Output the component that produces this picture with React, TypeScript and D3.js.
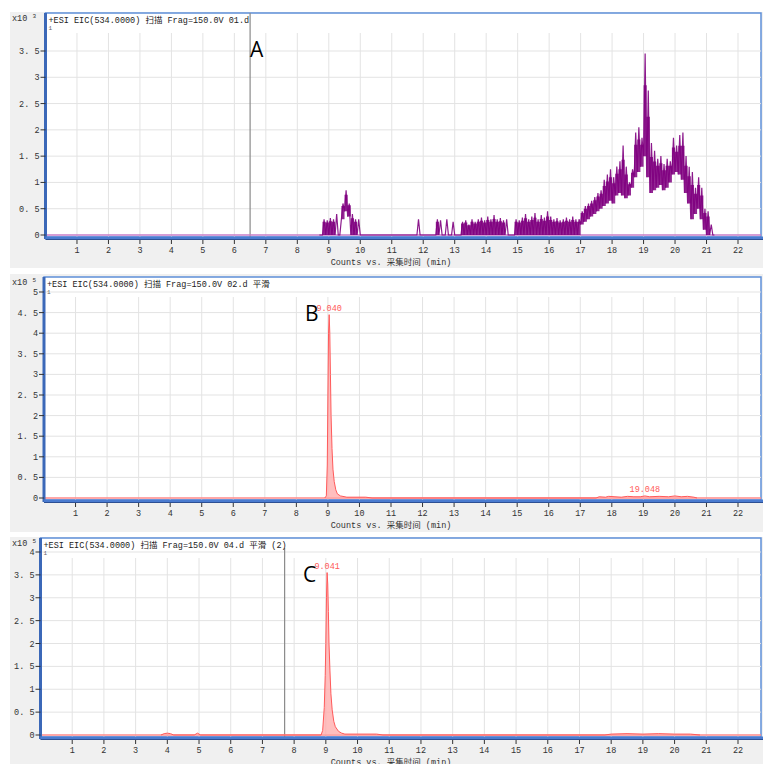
import React, { useRef, useEffect } from "react";
import * as d3 from "d3";

// x axis ticks (min)
const minuteTicks = [1, 2, 3, 4, 5, 6, 7, 8, 9, 10, 11, 12, 13, 14, 15, 16, 17, 18, 19, 20, 21, 22];

// y ticks per panel
const ticksA = [0, 0.5, 1, 1.5, 2, 2.5, 3, 3.5];
const ticksB = [0, 0.5, 1, 1.5, 2, 2.5, 3, 3.5, 4, 4.5, 5];
const ticksC = [0, 0.5, 1, 1.5, 2, 2.5, 3, 3.5, 4];

const titleA = "+ESI EIC(534.0000) 扫描 Frag=150.0V 01.d";
const titleB = "+ESI EIC(534.0000) 扫描 Frag=150.0V 02.d  平滑";
const titleC = "+ESI EIC(534.0000) 扫描 Frag=150.0V 04.d  平滑 (2)";
const xTitle = "Counts vs.  采集时间 (min)";

// panel A: noisy trace, 0.1 min bins starting at 8.7 (x10^3)
const aStart = 8.7;
const aStep = 0.1;
const aHigh = [
  0, 0.3, 0.28,
  0.32, 0.3, 0.4, 0, 0.6, 0.85, 0.6, 0.4, 0.3, 0.3,
  0, 0, 0, 0, 0, 0, 0, 0, 0, 0,
  0, 0, 0, 0, 0, 0, 0, 0, 0.3, 0,
  0, 0, 0, 0, 0.3, 0.28, 0, 0.3, 0, 0.25,
  0, 0, 0.25, 0.28, 0.2, 0.3, 0.25, 0.3, 0.33, 0.28,
  0.35, 0.3, 0.38, 0.3, 0.32, 0.28, 0.3, 0, 0, 0.3,
  0.28, 0.33, 0.4, 0.3, 0.35, 0.42, 0.3, 0.38, 0.33, 0.45,
  0.35, 0.3, 0.32, 0.28, 0.3, 0.33, 0.3, 0.35, 0.3, 0.3,
  0.45, 0.55, 0.6, 0.65, 0.72, 0.8, 0.85, 1.05, 1.15, 1.25,
  1.1, 1.3, 1.4, 1.7, 1.3, 1.0, 1.25, 1.95, 2.05, 1.85,
  3.45, 2.75, 1.75, 1.6, 1.45, 1.5, 1.35, 1.45, 1.4, 1.85,
  1.7, 1.9, 1.95, 1.5, 1.3, 1.2, 0.9, 1.1, 0.9, 0.5,
  0.45, 0.2, 0,
];
const aLow = [
  0, 0, 0,
  0, 0, 0, 0, 0.3, 0.45, 0.35, 0, 0, 0,
  0, 0, 0, 0, 0, 0, 0, 0, 0, 0,
  0, 0, 0, 0, 0, 0, 0, 0, 0, 0,
  0, 0, 0, 0, 0, 0, 0, 0, 0, 0,
  0, 0, 0, 0, 0, 0, 0, 0, 0, 0,
  0, 0, 0, 0, 0, 0, 0, 0, 0, 0,
  0, 0, 0, 0, 0, 0, 0, 0, 0, 0,
  0, 0, 0, 0, 0, 0, 0, 0, 0, 0,
  0.2, 0.25, 0.3, 0.35, 0.4, 0.45, 0.5, 0.55, 0.6, 0.65,
  0.6, 0.75, 0.8, 0.75, 0.7, 0.75, 0.9, 1.1, 1.2, 1.3,
  1.5, 1.1, 0.8, 0.85, 0.9, 0.95, 0.85, 0.9, 1.0, 1.15,
  1.2, 1.15, 1.05, 0.8, 0.6, 0.3, 0.4, 0.5, 0.3, 0.1,
  0, 0, 0,
];

// panel B (x10^5)
const bTime = [8.9, 8.95, 8.98, 9.0, 9.02, 9.04, 9.06, 9.08, 9.1, 9.13, 9.16, 9.2, 9.25, 9.3, 9.4, 9.6, 10.2, 10.4,
  17.5, 17.6, 17.8, 17.9, 18.1, 18.3, 18.5, 18.7, 18.9, 19.05, 19.2, 19.5, 19.8, 20.0, 20.2, 20.4, 20.6, 20.7];
const bValue = [0, 0.05, 0.8, 2.5, 4.0, 4.45, 4.0, 3.0, 2.0, 1.2, 0.7, 0.4, 0.2, 0.1, 0.05, 0.02, 0.02, 0,
  0, 0.03, 0.02, 0.04, 0.03, 0.02, 0.04, 0.03, 0.03, 0.05, 0.03, 0.04, 0.03, 0.05, 0.03, 0.04, 0.02, 0];

// panel C (x10^5)
const cTime = [3.8, 3.9, 4.0, 4.1, 4.2, 4.85, 4.95, 5.05, 8.85, 8.9, 8.95, 8.98, 9.0, 9.02, 9.04, 9.06, 9.08, 9.1, 9.13, 9.16,
  9.2, 9.25, 9.3, 9.4, 9.5, 9.6, 10.6, 10.8, 17.8, 18.0, 18.5, 19.0, 19.5, 20.0, 20.5, 20.8];
const cValue = [0, 0.03, 0.04, 0.03, 0, 0, 0.04, 0, 0, 0.1, 0.6, 1.3, 2.0, 3.0, 3.55, 3.3, 2.7, 2.0, 1.4, 0.9,
  0.55, 0.3, 0.18, 0.08, 0.04, 0.02, 0.02, 0, 0, 0.02, 0.03, 0.02, 0.03, 0.02, 0.02, 0];

const peakLabelsB = [{ t: 9.04, v: 4.45, text: "9.040" }, { t: 19.048, v: 0.05, text: "19.048" }];
const peakLabelsC = [{ t: 9.041, v: 3.55, text: "9.041" }];

const monoFont = "'Liberation Mono', 'Noto Sans CJK SC', monospace";

const panels = [
  { key: "A", bgTop: 12, bgBottom: 268, frameTop: 13, axisY: 237, left: 45.5, y0: 235, yTop: 51, ticks: ticksA, exp: "3",
    title: titleA, marker: 6.5, markerTop: 13, letterX: 250, letterY: 57 },
  { key: "B", bgTop: 274, bgBottom: 532, frameTop: 277, axisY: 500, left: 44, y0: 498, yTop: 292, ticks: ticksB, exp: "5",
    title: titleB, marker: null, markerTop: 0, letterX: 305, letterY: 321 },
  { key: "C", bgTop: 537, bgBottom: 764, frameTop: 538, axisY: 737, left: 40.5, y0: 735, yTop: 552, ticks: ticksC, exp: "5",
    title: titleC, marker: 7.7, markerTop: 548, letterX: 303, letterY: 582 },
];

const tickText = (v: number) => String(v).replace(".", ". ");

const App = () => {
  const ref = useRef<SVGSVGElement>(null);

  useEffect(() => {
    const svg = d3.select(ref.current);
    svg.selectAll("*").remove();
    const right = 761;

    panels.forEach((p) => {
      const g = svg.append("g");
      const x = d3.scaleLinear([0, 22], [p.left, 738]);
      const y = d3.scaleLinear([0, p.ticks[p.ticks.length - 1]], [p.y0, p.yTop]);

      g.append("rect").attr("x", 10).attr("y", p.bgTop).attr("width", 753).attr("height", p.bgBottom - p.bgTop)
        .attr("fill", "#f0f0f0");
      g.append("rect").attr("x", p.left).attr("y", p.frameTop).attr("width", right - p.left).attr("height", p.axisY - p.frameTop)
        .attr("fill", "#ffffff").attr("stroke", "#5e8fd8").attr("stroke-width", 1.5);

      // grid
      g.selectAll(".vg").data(minuteTicks).enter().append("line")
        .attr("x1", d => x(d)).attr("x2", d => x(d))
        .attr("y1", p.frameTop + 20).attr("y2", p.axisY)
        .attr("stroke", "#e3e3e3").attr("stroke-width", 1);
      g.selectAll(".hg").data(p.ticks.filter(t => t > 0)).enter().append("line")
        .attr("x1", p.left).attr("x2", right)
        .attr("y1", d => y(d)).attr("y2", d => y(d))
        .attr("stroke", "#e3e3e3").attr("stroke-width", 1);

      // vertical marker
      if (p.marker !== null) {
        g.append("line").attr("x1", x(p.marker)).attr("x2", x(p.marker))
          .attr("y1", p.markerTop).attr("y2", p.axisY)
          .attr("stroke", "#8a8a8a").attr("stroke-width", 1.2);
      }

      // header
      g.append("text").attr("x", p.left + 3).attr("y", p.frameTop + 10).attr("font-family", monoFont)
        .attr("font-size", 8.5).attr("fill", "#222").text(p.title);
      g.append("text").attr("x", p.left + 3).attr("y", p.frameTop + 17).attr("font-family", monoFont)
        .attr("font-size", 6).attr("fill", "#666").text("1");
      const xl = g.append("text").attr("x", 12).attr("y", p.frameTop + 8).attr("font-family", monoFont)
        .attr("font-size", 8.5).attr("fill", "#333");
      xl.append("tspan").text("x10 ");
      xl.append("tspan").attr("font-size", 6).attr("dy", -3).text(p.exp);

      // data
      if (p.key === "A") {
        g.append("line").attr("x1", p.left).attr("x2", right).attr("y1", y(0)).attr("y2", y(0))
          .attr("stroke", "#c77dc7").attr("stroke-width", 1.5);
        const I = d3.range(aHigh.length);
        // filled body of the noisy trace
        const band = d3.area<number>()
          .defined(i => aHigh[i] > 0)
          .curve(d3.curveStepAfter)
          .x(i => x(aStart + i * aStep))
          .y0(i => y(aLow[i]))
          .y1(i => y(Math.min(aHigh[i], (aLow[i] + aHigh[i] * 2) / 3 + 0.05)));
        g.append("path").attr("d", band(I)).attr("fill", "#800080").attr("fill-opacity", 0.85);
        // spikes
        const pts: [number, number][] = [];
        aHigh.forEach((h, i) => {
          const t = aStart + i * aStep;
          pts.push([t, aLow[i]]);
          pts.push([t + aStep / 2, h]);
        });
        const line = d3.line<[number, number]>().x(d => x(d[0])).y(d => y(d[1]));
        g.append("path").attr("d", line(pts)).attr("fill", "none")
          .attr("stroke", "#800080").attr("stroke-width", 1.2).attr("stroke-opacity", 0.9);
      } else {
        const T = p.key === "B" ? bTime : cTime;
        const V = p.key === "B" ? bValue : cValue;
        const I = d3.range(T.length);
        g.append("line").attr("x1", p.left).attr("x2", right).attr("y1", y(0)).attr("y2", y(0))
          .attr("stroke", "#ff8a8a").attr("stroke-width", 1.5);
        const area = d3.area<number>().x(i => x(T[i])).y0(y(0)).y1(i => y(V[i]));
        g.append("path").attr("d", area(I)).attr("fill", "#ffa8a8").attr("fill-opacity", 0.75);
        const line = d3.line<number>().x(i => x(T[i])).y(i => y(V[i]));
        g.append("path").attr("d", line(I)).attr("fill", "none").attr("stroke", "#ff5a5a").attr("stroke-width", 1);
        const labels = p.key === "B" ? peakLabelsB : peakLabelsC;
        g.selectAll(".pl").data(labels).enter().append("text")
          .attr("x", d => x(d.t)).attr("y", d => y(d.v) - 4)
          .attr("text-anchor", "middle").attr("font-family", monoFont)
          .attr("font-size", 8.5).attr("fill", "#ff5a5a").text(d => d.text);
      }

      // axes
      g.append("line").attr("x1", p.left).attr("x2", p.left).attr("y1", p.frameTop).attr("y2", p.axisY + 2)
        .attr("stroke", "#3b68b8").attr("stroke-width", 3);
      g.append("line").attr("x1", p.left).attr("x2", 763).attr("y1", p.axisY + 1).attr("y2", p.axisY + 1)
        .attr("stroke", "#4a7bd0").attr("stroke-width", 3);
      g.append("line").attr("x1", p.left).attr("x2", 763).attr("y1", p.axisY + 2.5).attr("y2", p.axisY + 2.5)
        .attr("stroke", "#2c4f94").attr("stroke-width", 1);

      // y ticks
      g.selectAll(".yt").data(p.ticks).enter().append("line")
        .attr("x1", p.left - 5).attr("x2", p.left).attr("y1", d => y(d)).attr("y2", d => y(d))
        .attr("stroke", "#333").attr("stroke-width", 1);
      g.selectAll(".yl").data(p.ticks).enter().append("text")
        .attr("x", p.left - 6).attr("y", d => y(d) + 3).attr("text-anchor", "end")
        .attr("font-family", monoFont).attr("font-size", 8.5).attr("fill", "#333")
        .text(d => tickText(d));

      // x ticks
      g.selectAll(".xt").data(minuteTicks).enter().append("line")
        .attr("x1", d => x(d)).attr("x2", d => x(d)).attr("y1", p.axisY + 3).attr("y2", p.axisY + 7)
        .attr("stroke", "#333").attr("stroke-width", 1);
      g.selectAll(".xl").data(minuteTicks).enter().append("text")
        .attr("x", d => x(d)).attr("y", p.axisY + 16).attr("text-anchor", "middle")
        .attr("font-family", monoFont).attr("font-size", 8.5).attr("fill", "#333")
        .text(d => d);
      g.append("text").attr("x", 391).attr("y", p.axisY + 28).attr("text-anchor", "middle")
        .attr("font-family", monoFont).attr("font-size", 8.5).attr("fill", "#333").text(xTitle);

      // panel letter
      g.append("text").attr("x", p.letterX).attr("y", p.letterY)
        .attr("font-family", "'Open Sans', 'Liberation Sans', sans-serif").attr("font-size", 21)
        .attr("fill", "#000").text(p.key);
    });
  }, []);

  return (
    <svg ref={ref} width={763} height={764}
      style={{ position: "absolute", left: 0, top: 0, background: "#ffffff" }} />
  );
};

export default App;
